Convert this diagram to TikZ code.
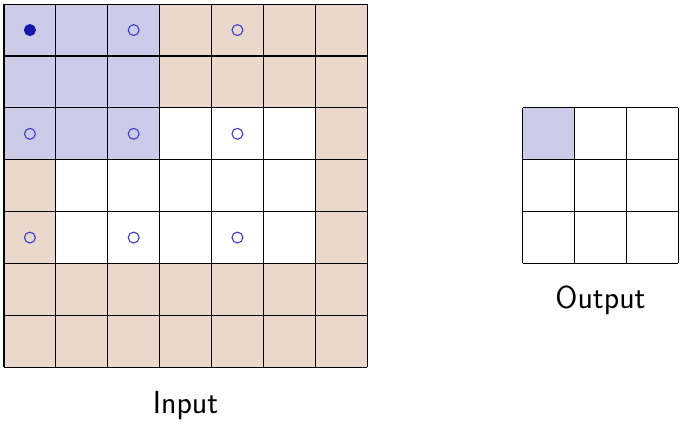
\documentclass[tikz,border=0pt]{standalone}
\usepackage{tikz, xcolor}
\usetikzlibrary{calc}
\definecolor{padtan}{RGB}{234,216,204}
\definecolor{fieldblue}{RGB}{204,204,232}
\definecolor{dotblue}{RGB}{60,60,205}
\definecolor{dotdark}{RGB}{22,22,170}
\tikzset{cellgrid/.style = {line width = 0.6pt, black},
    tap/.style = {draw = dotblue, line width = 0.6pt},
    tapfill/.style = {fill = dotdark, draw = dotdark}}

\begin{document}
\begin{tikzpicture}
        \useasboundingbox (-0.077,-1.12) rectangle (13.11,7.08);
        % padding
        \fill[padtan] (0,0) rectangle (7,2);
        \fill[padtan] (0,2) rectangle (1,4);
        \fill[padtan] (6,2) rectangle (7,7);
        \fill[padtan] (3,5) rectangle (6,7);
        % receptive field
        \fill[fieldblue] (0,4) rectangle (3,7);
        \fill[fieldblue] (10,4) rectangle (11,5);
        \draw[cellgrid] (0,0) grid (7,7);
        \draw[cellgrid] (10,2) grid (13,5);
        % dilated taps
        \foreach \i in {0,2,4}
            \foreach \j in {0,2,4}
                \draw[tap] (\i+0.5,6.5-\j) circle (0.105);
        \filldraw[tapfill] (0.5,6.5) circle (0.105);
        \node[font=\sffamily\fontsize{17.5}{21}\selectfont] (input) at (3.5,-0.73) {Input};
        \node[font=\sffamily\fontsize{17.5}{21}\selectfont] (output) at (11.5,1.29) {Output};
    \end{tikzpicture}
\end{document}
